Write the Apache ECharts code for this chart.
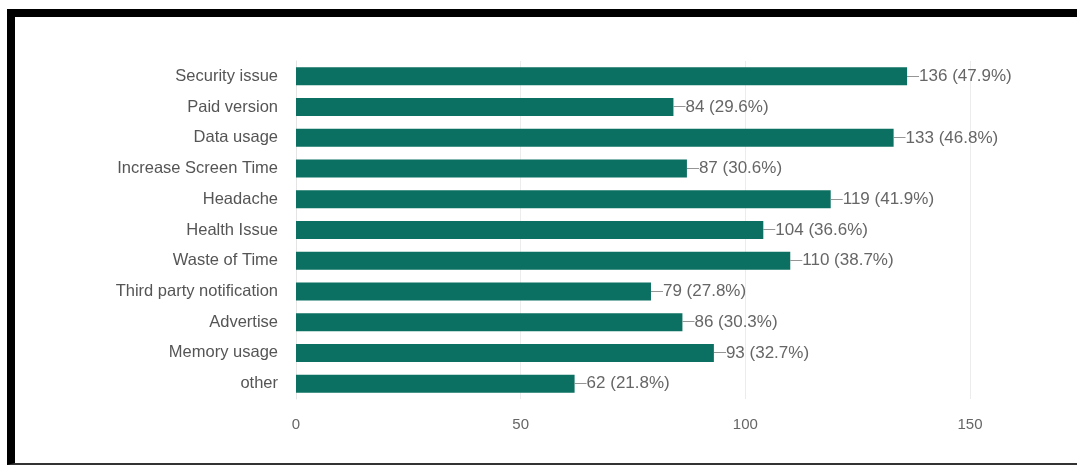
<!DOCTYPE html>
<html>
<head>
<meta charset="utf-8">
<script src="https://cdn.jsdelivr.net/npm/echarts@6/dist/echarts.min.js"></script>
<style>
html,body{margin:0;padding:0;background:#fff;}
#frame{position:absolute;left:7px;top:9px;width:1070px;height:446px;border-top:8px solid #000;border-left:8px solid #000;border-bottom:2px solid #333;box-sizing:content-box;pointer-events:none;z-index:2;}
#chart{position:absolute;left:0;top:0;width:1077px;height:465px;}
</style>
</head>
<body>
<div id="chart"></div>
<div id="frame"></div>
<script>
const categories = ["Security issue","Paid version","Data usage","Increase Screen Time","Headache","Health Issue","Waste of Time","Third party notification","Advertise","Memory usage","other"];
const counts = [136,84,133,87,119,104,110,79,86,93,62];
const percents = ["47.9","29.6","46.8","30.6","41.9","36.6","38.7","27.8","30.3","32.7","21.8"];
const xTicks = [0,50,100,150];

const chart = echarts.init(document.getElementById('chart'));
chart.setOption({
  animation:false,
  grid:{left:296,right:107,top:61,bottom:66,containLabel:false},
  xAxis:{
    type:'value',min:xTicks[0],max:xTicks[xTicks.length-1],interval:50,
    axisLine:{show:false},axisTick:{show:false},
    splitLine:{show:true,lineStyle:{color:'#ececec',width:1}},
    axisLabel:{color:'#666',fontFamily:'Liberation Sans',fontSize:15,margin:18}
  },
  yAxis:{
    type:'category',data:categories,inverse:true,
    axisLine:{show:true,lineStyle:{color:'#e4e4e4'}},axisTick:{show:false},
    axisLabel:{color:'#555',fontFamily:'Liberation Sans',fontSize:16.5,margin:18}
  },
  series:[{
    type:'bar',data:counts,barWidth:18,
    itemStyle:{color:'#0b7062'},
    label:{show:true,position:'right',distance:0,color:'#666',fontFamily:'Liberation Sans',fontSize:17,
      formatter:p=>'{l|\u2014}'+p.value+' ('+percents[p.dataIndex]+'%)',
      rich:{l:{fontSize:12,color:'#888',fontFamily:'Liberation Sans'}}}
  }]
});
</script>
</body>
</html>
